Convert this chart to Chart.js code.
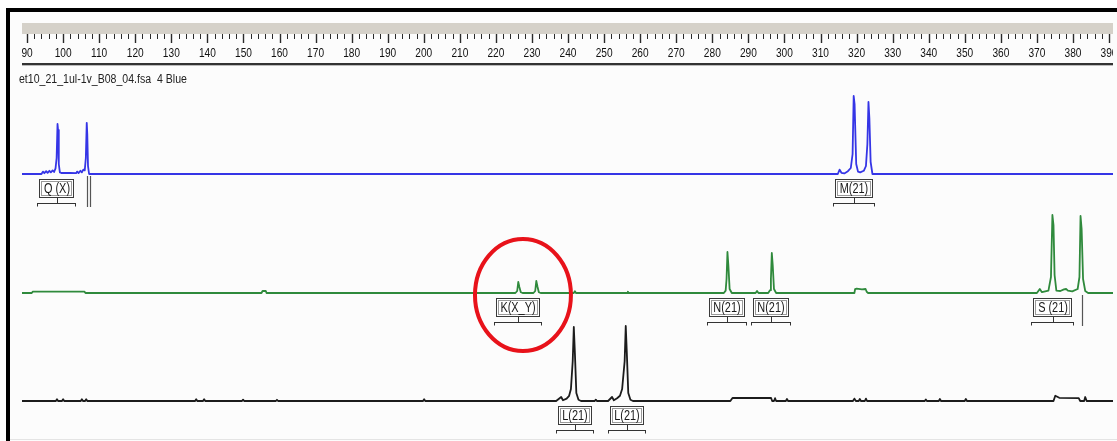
<!DOCTYPE html>
<html>
<head>
<meta charset="utf-8">
<script src="https://cdn.jsdelivr.net/npm/chart.js@4/dist/chart.umd.min.js"></script>
<style>
  html, body { margin: 0; padding: 0; background: #ffffff; }
  canvas { display: block; }
</style>
</head>
<body>
<canvas id="trace" width="1117" height="441"></canvas>
<script>
// size in bp, height in RFU (baseline 0)
var blueSize = [88.6, 94.0, 94.4, 94.8, 95.3, 95.7, 96.2, 96.6, 97.1, 97.5, 97.9, 98.2, 98.45, 98.6, 98.8, 99.1, 99.5, 102.0, 103.6, 103.9, 104.3, 104.8, 105.2, 105.6, 106.0, 106.3, 106.55, 106.7, 106.9, 107.2,
  314.8, 315.3, 315.8, 316.6, 317.6, 318.4, 318.9, 319.2, 319.45, 319.9, 320.4, 321.0, 322.0, 322.6, 323.0, 323.3, 323.55, 323.9, 324.4, 391.1];
var blueRfu = [0, 0, 60, 20, 70, 30, 80, 40, 90, 50, 140, 400, 1250, 1100, 250, 40, 25, 25, 20, 60, 25, 80, 40, 110, 90, 400, 1280, 1000, 200, 0,
  0, 110, 30, 15, 70, 150, 500, 1950, 1750, 250, 60, 40, 80, 200, 750, 1800, 1400, 300, 0, 0];

var greenSize = [88.6, 91.3, 91.6, 105.9, 106.2, 155.0, 155.3, 156.2, 156.4,
  225.4, 225.9, 226.2, 226.5, 226.9, 227.4, 230.4, 230.9, 231.2, 231.5, 231.9, 232.4,
  241.6, 241.9, 242.2, 256.4, 256.6, 256.8,
  283.2, 283.7, 283.95, 284.2, 284.45, 284.8, 285.4, 292.0, 292.4, 292.8,
  295.5, 296.0, 296.25, 296.5, 296.75, 297.1, 297.7,
  319.4, 319.6, 320.0, 321.5, 322.5, 322.8, 323.2,
  370.0, 370.8, 371.4, 373.2, 373.9, 374.3, 374.6, 374.9, 375.4, 376.5, 377.5, 378.1, 378.6, 379.8,
  381.3, 381.8, 382.1, 382.4, 382.8, 383.4, 384.2, 391.1];
var greenRfu = [0, 0, 35, 35, 0, 0, 50, 50, 0,
  0, 50, 275, 150, 20, 0, 0, 50, 300, 170, 20, 0,
  0, 45, 0, 0, 35, 0,
  0, 60, 350, 1025, 700, 100, 0, 0, 50, 0,
  0, 70, 350, 1000, 700, 100, 0,
  0, 100, 110, 90, 100, 30, 0,
  0, 100, 20, 60, 400, 1950, 1700, 450, 60, 50, 90, 100, 60, 40,
  100, 400, 1925, 1600, 350, 50, 0, 0];

var blackSize = [88.6, 98.0, 98.3, 98.6, 99.7, 100.0, 100.3, 104.9, 105.2, 105.5, 106.1, 106.4, 106.7,
  136.6, 136.9, 137.2, 138.8, 139.1, 139.4, 149.6, 149.9, 150.2, 159.0, 159.3, 159.6, 199.8, 200.1, 200.4,
  236.7, 238.1, 238.6, 239.6, 240.3, 240.8, 241.3, 241.6, 241.9, 242.3, 242.9, 243.6, 247.4, 247.7, 248.0,
  251.1, 252.2, 252.7, 253.6, 254.4, 255.0, 255.7, 256.0, 256.3, 256.7, 257.3, 258.0,
  285.0, 285.6, 296.3, 296.6, 297.1, 297.4, 297.7, 300.4, 300.7, 301.0,
  319.0, 319.4, 319.8, 320.6, 320.9, 321.2, 322.3, 322.6, 322.9,
  338.9, 339.2, 339.5, 342.8, 343.1, 343.4, 350.0, 350.3, 350.6,
  374.6, 375.1, 376.2, 381.6, 382.0, 383.1, 383.4, 383.8, 391.1];
var blackRfu = [0, 0, 45, 0, 0, 45, 0, 0, 45, 0, 0, 45, 0,
  0, 45, 0, 0, 45, 0, 0, 35, 0, 0, 30, 0, 0, 45, 0,
  0, 100, 20, 60, 130, 300, 1000, 1850, 1200, 200, 30, 0, 0, 35, 0,
  0, 100, 20, 70, 130, 300, 1000, 1875, 1200, 200, 30, 0,
  0, 75, 75, 0, 0, 70, 0, 0, 50, 0,
  0, 60, 0, 0, 50, 0, 0, 60, 0,
  0, 40, 0, 0, 50, 0, 0, 50, 0,
  0, 130, 80, 70, 0, 0, 100, 0, 0];

// allele calls
var alleleNames = ["Q (X)", "M(21)", "K(X_Y)", "N(21)", "N(21)", "S (21)", "L(21)", "L(21)"];
var alleleSizes = [98.3, 319.3, 226.2, 284.2, 296.3, 374.4, 242.0, 256.3];
var alleleTrace = [0, 0, 1, 1, 1, 1, 2, 2];

// bin marker lines
var markSizes = [106.6, 107.4, 382.5];
var markTrace = [0, 0, 1];

// ruler
var rulerTicks = [90, 100, 110, 120, 130, 140, 150, 160, 170, 180, 190, 200, 210, 220, 230, 240, 250, 260, 270, 280, 290, 300, 310, 320, 330, 340, 350, 360, 370, 380, 390];
var fileLabel = "et10_21_1ul-1v_B08_04.fsa  4 Blue";
var circledSize = 227.5;

var traceColors = ["#3535e6", "#2f8a3c", "#1c1c1c"];
var traceAxes = ["yBlue", "yGreen", "yBlack"];

function pts(sz, rf) {
  return sz.map(function (s, i) { return { x: s, y: rf[i] }; });
}

var narrow = "'Liberation Sans Narrow', 'Liberation Sans', Arial, sans-serif";

var decor = {
  id: "decor",
  beforeDraw: function (chart) {
    var ctx = chart.ctx;
    ctx.save();
    ctx.fillStyle = "#ffffff";
    ctx.fillRect(0, 0, chart.width, chart.height);
    ctx.fillStyle = "#fcfcfc";
    ctx.fillRect(10, 12, chart.width - 10, chart.height - 12);
    // frame
    ctx.fillStyle = "#000000";
    ctx.fillRect(6, 8, chart.width - 6, 4);
    ctx.fillRect(6, 8, 4, chart.height - 8);
    ctx.fillStyle = "#e4e4e4";
    ctx.fillRect(10, 439, chart.width - 10, 1);
    ctx.restore();
  },
  afterDraw: function (chart) {
    var ctx = chart.ctx;
    var xs = chart.scales.x;
    var a = chart.chartArea;
    ctx.save();

    // ruler band
    ctx.fillStyle = "#d5d1c9";
    ctx.fillRect(a.left, 23, a.right - a.left, 11);
    ctx.strokeStyle = "#2a2a2a";
    ctx.lineWidth = 1;
    for (var v = 90; v <= 392; v += 2) {
      var px = Math.round(xs.getPixelForValue(v)) + 0.5;
      if (px < a.left || px > a.right) continue;
      var major = (v % 10 === 0);
      ctx.lineWidth = major ? 1.4 : 1;
      ctx.beginPath();
      ctx.moveTo(px, 34);
      ctx.lineTo(px, major ? 43 : 39);
      ctx.stroke();
    }
    ctx.save();
    ctx.beginPath();
    ctx.rect(a.left - 6, 40, a.right - a.left + 6, 22);
    ctx.clip();
    ctx.fillStyle = "#111111";
    ctx.font = "13px " + narrow;
    ctx.textAlign = "center";
    ctx.textBaseline = "middle";
    rulerTicks.forEach(function (t) {
      var px = xs.getPixelForValue(t);
      ctx.save();
      ctx.translate(px, 53);
      ctx.scale(0.78, 1);
      ctx.fillText(String(t), 0, 0);
      ctx.restore();
    });
    ctx.restore();
    ctx.fillStyle = "#333333";
    ctx.fillRect(a.left, 63, a.right - a.left, 2);
    ctx.fillStyle = "#bbbbbb";
    ctx.fillRect(a.left, 65, a.right - a.left, 1);

    // file name
    ctx.save();
    ctx.fillStyle = "#222222";
    ctx.font = "12px " + narrow;
    ctx.textAlign = "left";
    ctx.textBaseline = "middle";
    ctx.translate(19, 80);
    ctx.scale(0.88, 1);
    ctx.fillText(fileLabel, 0, 0);
    ctx.restore();

    // bin markers
    markSizes.forEach(function (s, i) {
      var base = chart.scales[traceAxes[markTrace[i]]].getPixelForValue(0);
      var px = Math.round(xs.getPixelForValue(s)) + 0.5;
      ctx.strokeStyle = "#555555";
      ctx.lineWidth = 1.2;
      ctx.beginPath();
      ctx.moveTo(px, base + 2);
      ctx.lineTo(px, base + 33);
      ctx.stroke();
    });

    // allele label boxes
    ctx.font = "14px " + narrow;
    alleleNames.forEach(function (name, i) {
      var base = chart.scales[traceAxes[alleleTrace[i]]].getPixelForValue(0);
      var cx = Math.round(xs.getPixelForValue(alleleSizes[i]));
      ctx.save();
      var tw = ctx.measureText(name).width * 0.78;
      var w = Math.round(tw + 9);
      var h = 19;
      var left = cx - Math.round(w / 2);
      var top = Math.round(base + 5);
      ctx.fillStyle = "#ffffff";
      ctx.fillRect(left, top, w, h);
      ctx.strokeStyle = "#9a9a9a";
      ctx.lineWidth = 1;
      ctx.strokeRect(left + 2.5, top + 2.5, w - 5, h - 5);
      ctx.strokeStyle = "#3a3a3a";
      ctx.strokeRect(left + 0.5, top + 0.5, w - 1, h - 1);
      ctx.fillStyle = "#1a1a1a";
      ctx.textAlign = "center";
      ctx.textBaseline = "middle";
      ctx.translate(cx, top + h / 2 + 0.5);
      ctx.scale(0.78, 1);
      ctx.fillText(name, 0, 0);
      ctx.restore();
      // bracket
      var by = top + h + 5.5;
      ctx.strokeStyle = "#333333";
      ctx.lineWidth = 1;
      ctx.beginPath();
      ctx.moveTo(cx + 0.5, top + h);
      ctx.lineTo(cx + 0.5, by);
      ctx.moveTo(left - 2, by);
      ctx.lineTo(left + w + 2, by);
      ctx.moveTo(left - 1.5, by);
      ctx.lineTo(left - 1.5, by + 3);
      ctx.moveTo(left + w + 1.5, by);
      ctx.lineTo(left + w + 1.5, by + 3);
      ctx.stroke();
    });

    // red circle round K(X_Y)
    var gBase = chart.scales.yGreen.getPixelForValue(0);
    var ccx = xs.getPixelForValue(circledSize);
    var rx = xs.getPixelForValue(circledSize + 13.3) - ccx;
    ctx.strokeStyle = "#e8121a";
    ctx.lineWidth = 4;
    ctx.beginPath();
    ctx.ellipse(ccx, gBase + 2, rx, 56, 0, 0, Math.PI * 2);
    ctx.stroke();

    ctx.restore();
  }
};

var datasets = [
  { data: pts(blueSize, blueRfu), yAxisID: "yBlue" },
  { data: pts(greenSize, greenRfu), yAxisID: "yGreen" },
  { data: pts(blackSize, blackRfu), yAxisID: "yBlack" }
].map(function (d, i) {
  d.borderColor = traceColors[i];
  d.borderWidth = 1.8;
  d.borderJoinStyle = "round";
  d.borderCapStyle = "round";
  d.pointRadius = 0;
  d.tension = 0;
  d.fill = false;
  return d;
});

new Chart(document.getElementById("trace").getContext("2d"), {
  type: "line",
  data: { datasets: datasets },
  options: {
    responsive: false,
    animation: false,
    events: [],
    layout: { padding: { left: 22, right: 4, top: 66, bottom: 1 } },
    plugins: { legend: { display: false }, tooltip: { enabled: false } },
    scales: {
      x: { type: "linear", min: 88.6, max: 391.1, display: false },
      yBlue: { min: -6650, max: 2700, display: false },
      yGreen: { min: -3675, max: 5675, display: false },
      yBlack: { min: -975, max: 8375, display: false }
    }
  },
  plugins: [decor]
});
</script>
</body>
</html>
